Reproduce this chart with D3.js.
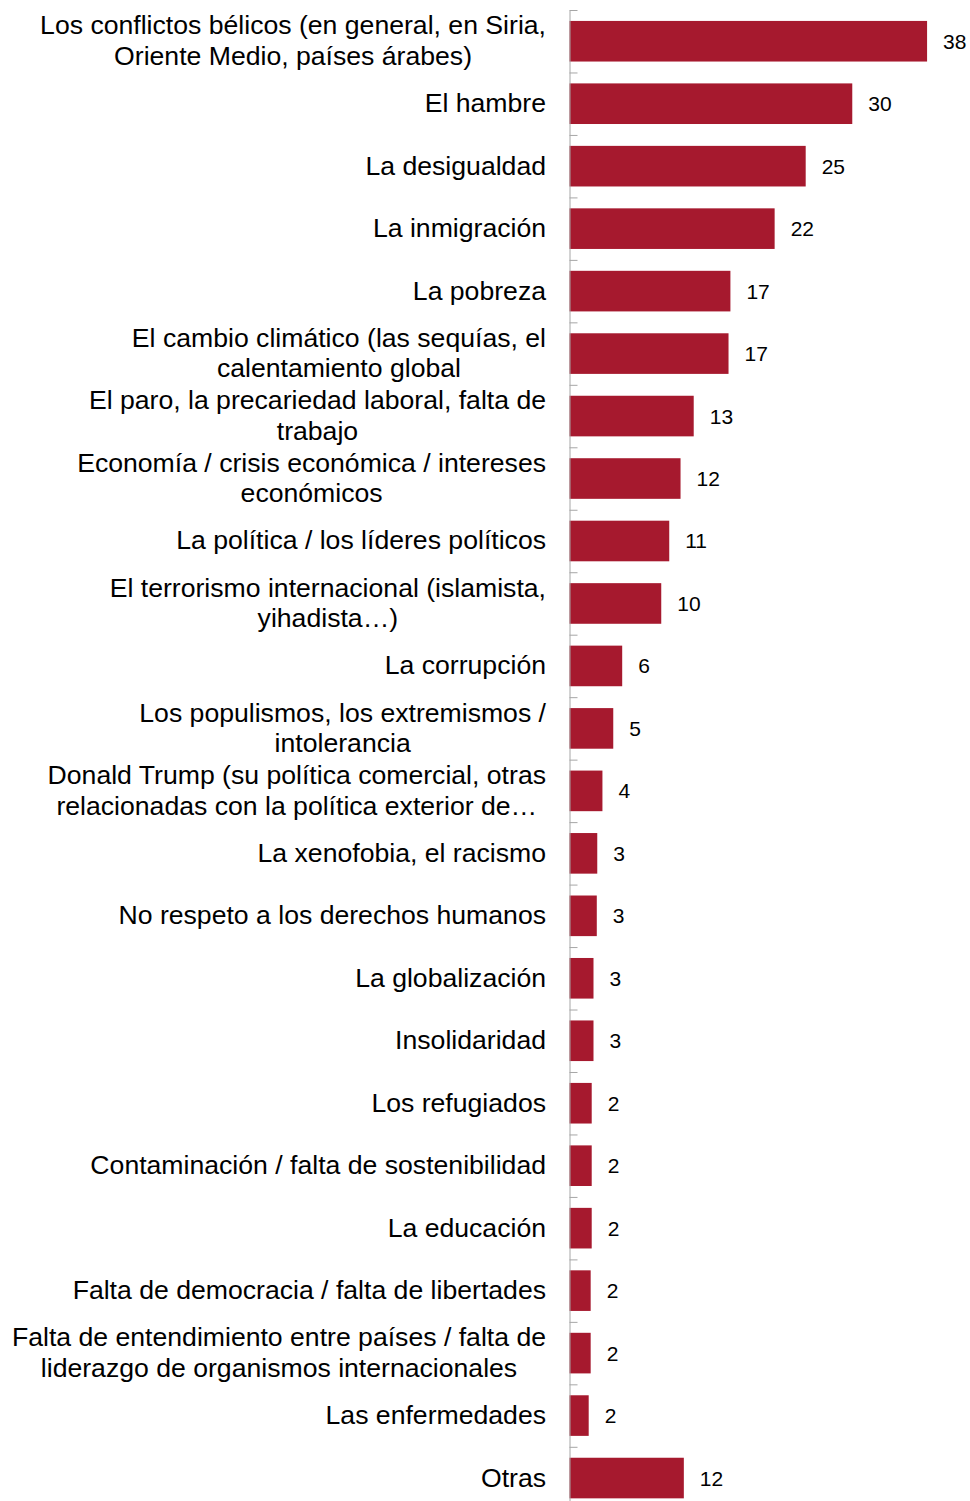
<!DOCTYPE html>
<html>
<head>
<meta charset="utf-8">
<script src="https://cdn.jsdelivr.net/npm/d3@7"></script>
<style>
  html, body { margin: 0; padding: 0; background: #fff; }
  text { font-family: "Liberation Sans", Arial, sans-serif; fill: #000; }
</style>
</head>
<body>
<div id="chart"></div>
<script>
// categories (line breaks as in the original labels)
var categories = [
  "Los conflictos bélicos (en general, en Siria,\nOriente Medio, países árabes)",
  "El hambre",
  "La desigualdad",
  "La inmigración",
  "La pobreza",
  "El cambio climático (las sequías, el\ncalentamiento global",
  "El paro, la precariedad laboral, falta de\ntrabajo",
  "Economía / crisis económica / intereses\neconómicos",
  "La política / los líderes políticos",
  "El terrorismo internacional (islamista,\nyihadista…)",
  "La corrupción",
  "Los populismos, los extremismos /\nintolerancia",
  "Donald Trump (su política comercial, otras\nrelacionadas con la política exterior de…",
  "La xenofobia, el racismo",
  "No respeto a los derechos humanos",
  "La globalización",
  "Insolidaridad",
  "Los refugiados",
  "Contaminación / falta de sostenibilidad",
  "La educación",
  "Falta de democracia / falta de libertades",
  "Falta de entendimiento entre países / falta de\nliderazgo de organismos internacionales",
  "Las enfermedades",
  "Otras"
];

// percentages
var values = [38.0, 30.05, 25.1, 21.8, 17.1, 16.9, 13.2, 11.8, 10.6, 9.75, 5.6, 4.65,
              3.5, 2.95, 2.9, 2.55, 2.55, 2.36, 2.36, 2.36, 2.25, 2.25, 2.04, 12.15];

var data = categories.map((c, i) => ({ cat: c, value: values[i] }));

// set the dimensions
var width = 970, height = 1501;
var axisX = 569.5, marginTop = 10, step = 62.47;

var svg = d3.select("#chart")
  .append("svg")
  .attr("width", width)
  .attr("height", height);

// scales
var x = d3.scaleLinear()
  .domain([0, 40])
  .range([axisX, axisX + 40 * 9.41]);

var y = d3.scaleBand()
  .domain(categories)
  .range([marginTop, marginTop + categories.length * step])
  .paddingInner(0.35)
  .paddingOuter(0.175);

// bars
svg.selectAll("rect.bar")
  .data(data)
  .enter()
  .append("rect")
  .attr("class", "bar")
  .attr("x", x(0))
  .attr("y", d => y(d.cat))
  .attr("width", d => x(d.value) - x(0))
  .attr("height", y.bandwidth())
  .style("fill", "#a6192e");

// value labels
svg.selectAll("text.val")
  .data(data)
  .enter()
  .append("text")
  .attr("class", "val")
  .attr("x", d => x(d.value) + 16)
  .attr("y", d => y(d.cat) + y.bandwidth() / 2 + 7.5)
  .style("font-size", "21px")
  .text(d => Math.round(d.value));

// y axis: ticks between categories, pointing right
var edges = d3.scaleLinear()
  .domain([0, categories.length])
  .range([marginTop, marginTop + categories.length * step]);

var yAxis = svg.append("g")
  .attr("transform", "translate(" + axisX + ",0)")
  .call(d3.axisLeft(edges)
    .tickValues(d3.range(categories.length + 1))
    .tickSize(-8)
    .tickSizeOuter(0)
    .tickFormat(""));
yAxis.select(".domain").attr("stroke", "#a6a6a6");
yAxis.selectAll(".tick line").attr("stroke", "#a6a6a6");

// category labels, right aligned block, lines centred in it
// (the original text is a little wider than Liberation Sans, so stretch it)
var labelRight = 546, lineH = 30.5, stretch = 1.065;
var glabels = svg.selectAll("g.lab")
  .data(data)
  .enter()
  .append("g")
  .attr("class", "lab")
  .attr("transform", "translate(" + labelRight + ",0) scale(" + stretch + ",1)");

glabels.each(function(d) {
  var g = d3.select(this);
  var lines = d.cat.split("\n");
  var cy = y(d.cat) + y.bandwidth() / 2;
  var texts = lines.map((l, i) =>
    g.append("text")
      .attr("y", cy + 8.5 + (i - (lines.length - 1) / 2) * lineH)
      .style("font-size", "25px")
      .text(l));
  var maxW = d3.max(texts, t => t.node().getComputedTextLength());
  texts.forEach(t => t
    .attr("text-anchor", "middle")
    .attr("x", -maxW / 2));
});
</script>
</body>
</html>
